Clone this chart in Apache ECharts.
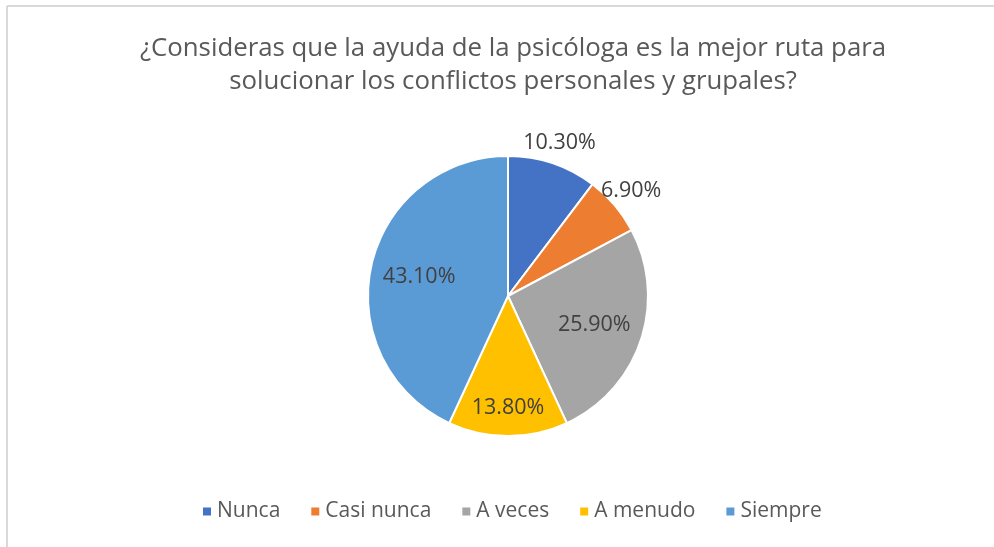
<!DOCTYPE html>
<html><head><meta charset="utf-8">
<script src="https://cdn.jsdelivr.net/npm/echarts@6/dist/echarts.min.js"></script>
<style>html,body{margin:0;padding:0;background:#fff}#c{width:994px;height:547px}</style>
</head><body><div id="c"></div>
<script>
const titleText = '¿Consideras que la ayuda de la psicóloga es la mejor ruta para\nsolucionar los conflictos personales y grupales?';
const categories = ['Nunca', 'Casi nunca', 'A veces', 'A menudo', 'Siempre'];
const values = [10.3, 6.9, 25.9, 13.8, 43.1];
const colors = ['#4472C4', '#ED7D31', '#A5A5A5', '#FFC000', '#5B9BD5'];

const CX = 508, CY = 296, R = 140;
const total = values.reduce((a, b) => a + b, 0);
// mid angle of each slice (clockwise from 12 o'clock), computed from the data
const midAngles = [];
{ let acc = 0; values.forEach(v => { midAngles.push((acc + v / 2) / total * 2 * Math.PI); acc += v; }); }
// Excel-like "best fit": small slices get labels outside, others inside
function labelRadius(i) {
  const share = values[i] / total;
  if (share < 0.12 && i < 2) return R + 22;
  if (share < 0.2) return R * 0.8;
  return R * 0.65;
}

const chart = echarts.init(document.getElementById('c'));
const font = '"Open Sans", sans-serif';
chart.setOption({
  animation: false,
  backgroundColor: '#fff',
  graphic: [
    {type: 'line', shape: {x1: 7, y1: 6, x2: 994, y2: 6}, style: {stroke: '#d9d9d9', lineWidth: 2}},
    {type: 'line', shape: {x1: 7, y1: 6, x2: 7, y2: 547}, style: {stroke: '#d9d9d9', lineWidth: 2}}
  ],
  title: {
    text: titleText, left: 508, top: 27, textAlign: 'center',
    textStyle: {fontFamily: font, fontSize: 25.8, fontWeight: 'normal', color: '#595959', lineHeight: 33}
  },
  legend: {
    bottom: 20, left: 196, icon: 'rect', itemWidth: 10, itemHeight: 10, itemGap: 29,
    textStyle: {fontFamily: font, fontSize: 21, color: '#595959'},
    data: categories
  },
  series: [{
    type: 'pie', center: [CX, CY], radius: R, startAngle: 90, clockwise: true,
    itemStyle: {borderColor: '#fff', borderWidth: 2},
    label: {show: true, position: 'inside', fontFamily: font, fontSize: 21.5, color: '#404040',
      formatter: p => p.value.toFixed(2) + '%'},
    labelLine: {show: false},
    labelLayout: function (params) {
      const i = params.dataIndex;
      const a = midAngles[i], d = labelRadius(i);
      return {x: CX + d * Math.sin(a), y: CY - d * Math.cos(a), align: 'center', verticalAlign: 'middle'};
    },
    data: categories.map((c, i) => ({name: c, value: values[i], itemStyle: {color: colors[i]}}))
  }]
});
</script></body></html>
